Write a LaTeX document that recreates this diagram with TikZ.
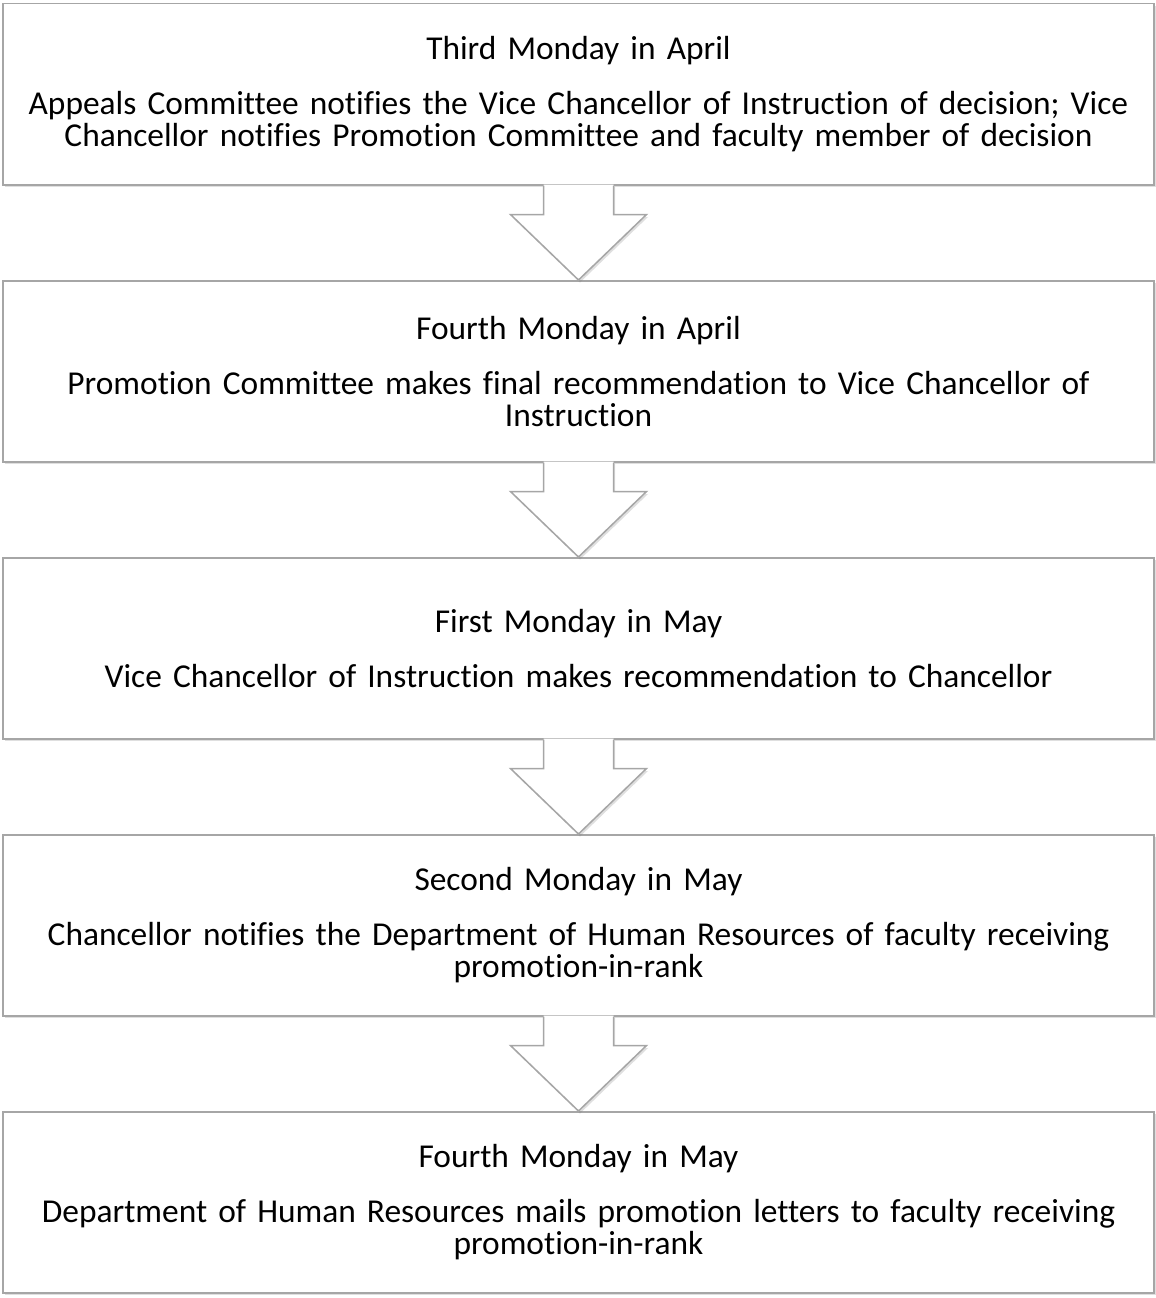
\documentclass[tikz,border=0pt]{standalone}
\usepackage{fontspec}
\setmainfont{Carlito}[Ligatures=NoCommon]
\usetikzlibrary{positioning,shadows,calc}

\begin{document}
\begin{tikzpicture}[
  x=1pt, y=1pt,
  node distance=94.5pt,
  softshadow/.style={drop shadow={opacity=0.25, shadow xshift=1.5pt, shadow yshift=-2.5pt}},
  stepbox/.style={draw=gray!70, line width=1.5pt, fill=white, softshadow, align=center,
    minimum width=1151pt, minimum height=181pt, text width=1145pt, inner sep=0pt,
    font=\fontsize{33.4}{32}\selectfont},
  arrowfill/.style={fill=white, softshadow},
  arrowline/.style={draw=gray!70, line width=1.5pt, line join=miter}
]
\useasboundingbox (0,0) rectangle (1156,-1298);
\node[stepbox, anchor=north] (apr3) at (578.5,-3) {Third Monday in April\\[23pt]
  Appeals Committee notifies the Vice Chancellor of Instruction of decision; Vice\\
  Chancellor notifies Promotion Committee and faculty member of decision};
\node[stepbox, below=of apr3] (apr4) {Fourth Monday in April\\[23pt]
  Promotion Committee makes final recommendation to Vice Chancellor of\\
  Instruction};
\node[stepbox, below=of apr4] (may1) {First Monday in May\\[23pt]
  Vice Chancellor of Instruction makes recommendation to Chancellor};
\node[stepbox, below=of may1] (may2) {Second Monday in May\\[23pt]
  Chancellor notifies the Department of Human Resources of faculty receiving\\
  promotion-in-rank};
\node[stepbox, below=of may2] (may4) {Fourth Monday in May\\[23pt]
  Department of Human Resources mails promotion letters to faculty receiving\\
  promotion-in-rank};
% block arrows between the steps
\foreach \a/\b in {apr3/apr4, apr4/may1, may1/may2, may2/may4} {
  \path[arrowfill] ([xshift=-35pt,yshift=1pt]\a.south) -- ([xshift=-35pt,yshift=-29pt]\a.south)
    -- ([xshift=-68pt,yshift=-29pt]\a.south) -- (\b.north) -- ([xshift=68pt,yshift=-29pt]\a.south)
    -- ([xshift=35pt,yshift=-29pt]\a.south) -- ([xshift=35pt,yshift=1pt]\a.south) -- cycle;
  \draw[arrowline] ([xshift=-35pt]\a.south) -- ([xshift=-35pt,yshift=-29pt]\a.south)
    -- ([xshift=-68pt,yshift=-29pt]\a.south) -- (\b.north) -- ([xshift=68pt,yshift=-29pt]\a.south)
    -- ([xshift=35pt,yshift=-29pt]\a.south) -- ([xshift=35pt]\a.south);
}
\end{tikzpicture}
\end{document}
